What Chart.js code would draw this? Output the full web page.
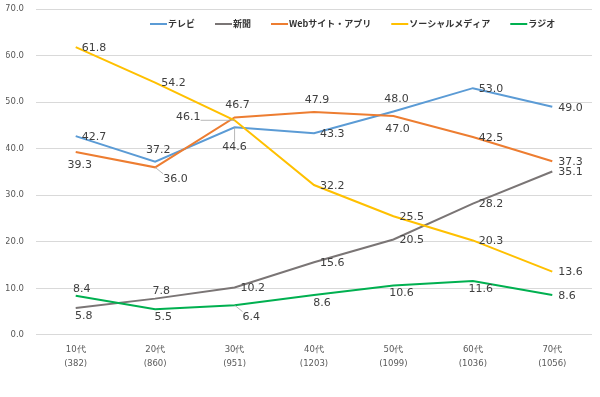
<!DOCTYPE html>
<html lang="ja">
<head>
<meta charset="utf-8">
<script src="https://cdn.jsdelivr.net/npm/chart.js@4/dist/chart.umd.min.js"></script>
<style>
  html, body { margin: 0; padding: 0; background: #fff; }
  #wrap { width: 600px; height: 397px; position: relative; }
</style>
</head>
<body>
<div id="wrap"><canvas id="chart"></canvas></div>
<script>
const AGE_GROUPS = ['10代', '20代', '30代', '40代', '50代', '60代', '70代'];
const SAMPLE_SIZES = ['(382)', '(860)', '(951)', '(1203)', '(1099)', '(1036)', '(1056)'];

const SERIES_NAMES = ['テレビ', '新聞', 'Webサイト・アプリ', 'ソーシャルメディア', 'ラジオ'];
const TV = [42.7, 37.2, 44.6, 43.3, 48.0, 53.0, 49.0];
const NEWSPAPER = [5.8, 7.8, 10.2, 15.6, 20.5, 28.2, 35.1];
const WEB_APP = [39.3, 36.0, 46.7, 47.9, 47.0, 42.5, 37.3];
const SOCIAL = [61.8, 54.2, 46.1, 32.2, 25.5, 20.3, 13.6];
const RADIO = [8.4, 5.5, 6.4, 8.6, 10.6, 11.6, 8.6];

const Y_MIN = 0;
const Y_MAX = 70;
const Y_STEP = 10;

const COLORS = ['#5B9BD5', '#7A7575', '#ED7D31', '#FFC000', '#00B050'];

// where each data label sits relative to its point (Excel had them moved by hand)
// r = right, a = above, an = just above, b = below, bn = just below,
// bb = far below, l = left, br = below right; '*' = leader line
const LABEL_PLACES = [
  ['r', 'a', 'bb*', 'r', 'a', 'r', 'r'],
  ['bn', 'an', 'r', 'r', 'r', 'r', 'r'],
  ['b', 'br*', 'a', 'a', 'b', 'r', 'r'],
  ['r', 'r', 'l*', 'r', 'r', 'r', 'r'],
  ['an', 'bn', 'br*', 'bn', 'bn', 'bn', 'r']
];

const LABEL_FONT = '11px "DejaVu Sans"';
const TICK_FONT = { family: '"DejaVu Sans"', size: 8.5 };

const SERIES_VALUES = [TV, NEWSPAPER, WEB_APP, SOCIAL, RADIO];

function labelBox(ctx, place, px, py, text) {
  const w = ctx.measureText(text).width;
  const h = 11;
  let x, y;
  switch (place) {
    case 'a': x = px + 3 - w / 2; y = py - 12; break;
    case 'an': x = px + 6 - w / 2; y = py - 7; break;
    case 'b': x = px + 4 - w / 2; y = py + 13; break;
    case 'bn': x = px + 8 - w / 2; y = py + 8; break;
    case 'bb': x = px - w / 2; y = py + 20; break;
    case 'l': x = px - 34 - w; y = py - 3; break;
    case 'br': x = px + 8; y = py + 12; break;
    default: x = px + 6; y = py + 1;
  }
  return { x, y, w, h };
}

const dataLabels = {
  id: 'dataLabels',
  afterDatasetsDraw(chart) {
    const ctx = chart.ctx;
    ctx.save();
    ctx.font = LABEL_FONT;
    ctx.textBaseline = 'middle';
    ctx.textAlign = 'left';
    chart.data.datasets.forEach((ds, di) => {
      const meta = chart.getDatasetMeta(di);
      meta.data.forEach((pt, i) => {
        const raw = LABEL_PLACES[di][i];
        const leader = raw.endsWith('*');
        const place = raw.replace('*', '');
        const text = ds.data[i].toFixed(1);
        const box = labelBox(ctx, place, pt.x, pt.y, text);
        if (leader) {
          const tx = Math.max(box.x, Math.min(pt.x, box.x + box.w));
          const ty = Math.max(box.y - box.h / 2, Math.min(pt.y, box.y + box.h / 2));
          ctx.strokeStyle = '#A6A6A6';
          ctx.lineWidth = 0.8;
          ctx.beginPath();
          ctx.moveTo(pt.x, pt.y);
          ctx.lineTo(tx, ty);
          ctx.stroke();
        }
        ctx.fillStyle = '#404040';
        ctx.fillText(text, box.x, box.y);
      });
    });
    ctx.restore();
  }
};

const insideLegend = {
  id: 'insideLegend',
  afterDraw(chart) {
    const ctx = chart.ctx;
    const area = chart.chartArea;
    ctx.save();
    ctx.font = 'bold 9px "Noto Sans CJK JP"';
    ctx.textBaseline = 'middle';
    ctx.textAlign = 'left';
    let x = area.left + 114;
    const y = 24;
    chart.data.datasets.forEach((ds) => {
      ctx.strokeStyle = ds.borderColor;
      ctx.lineWidth = 2;
      ctx.beginPath();
      ctx.moveTo(x, y);
      ctx.lineTo(x + 17, y);
      ctx.stroke();
      ctx.fillStyle = '#333333';
      ctx.fillText(ds.label, x + 18, y);
      x += 18 + ctx.measureText(ds.label).width + 20;
    });
    ctx.restore();
  }
};

new Chart(document.getElementById('chart'), {
  type: 'line',
  data: {
    labels: AGE_GROUPS.map((g, i) => [g, SAMPLE_SIZES[i]]),
    datasets: SERIES_NAMES.map((name, i) => ({
      label: name,
      data: SERIES_VALUES[i],
      borderColor: COLORS[i],
      backgroundColor: COLORS[i],
      borderWidth: 2,
      pointRadius: 0,
      tension: 0,
      order: SERIES_NAMES.length - i
    }))
  },
  options: {
    responsive: true,
    maintainAspectRatio: false,
    animation: false,
    layout: { padding: { left: 6, right: 8, top: 9, bottom: 26 } },
    plugins: {
      legend: { display: false },
      tooltip: { enabled: false }
    },
    scales: {
      x: {
        offset: true,
        grid: { display: false },
        border: { display: false },
        ticks: {
          color: '#595959',
          font: { ...TICK_FONT, lineHeight: 1.65 },
          padding: 0,
          maxRotation: 0
        }
      },
      y: {
        min: Y_MIN,
        max: Y_MAX,
        border: { display: false },
        grid: { color: '#D9D9D9', lineWidth: 1, drawTicks: false },
        ticks: {
          stepSize: Y_STEP,
          color: '#595959',
          font: TICK_FONT,
          padding: 12,
          callback: (v) => v.toFixed(1)
        },
        afterFit(scale) {
          scale.width = 30;
          scale.paddingTop = 0;
          scale.paddingBottom = 0;
        }
      }
    }
  },
  plugins: [dataLabels, insideLegend]
});
</script>
</body>
</html>
